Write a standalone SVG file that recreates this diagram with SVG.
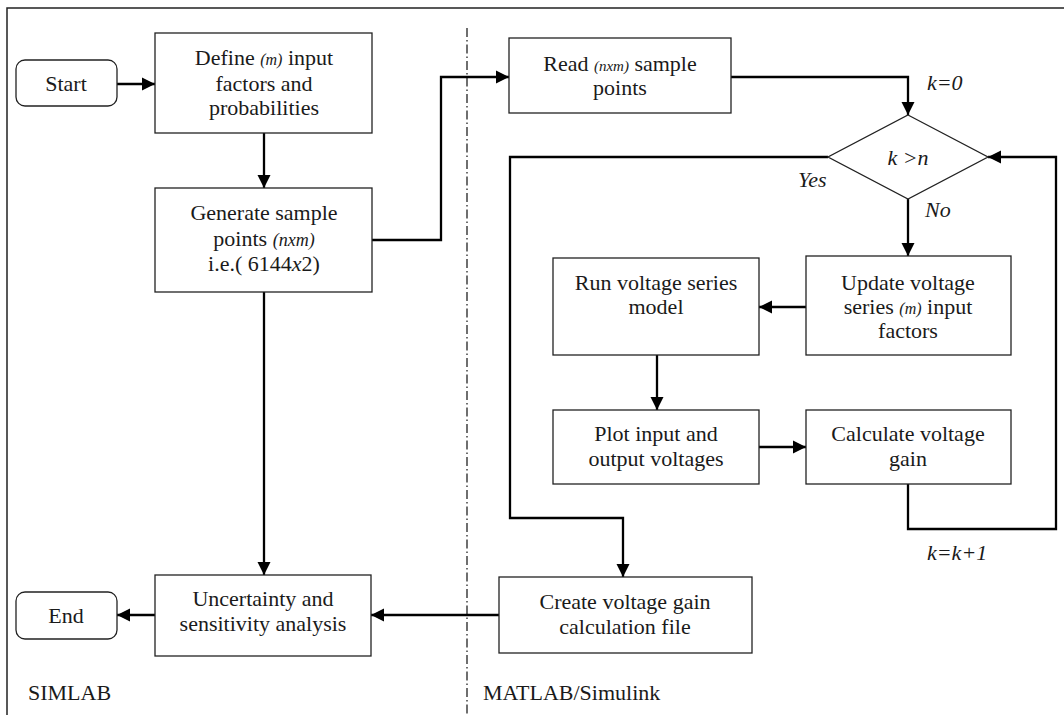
<svg xmlns="http://www.w3.org/2000/svg" width="1064" height="715" viewBox="0 0 1064 715">
<style>
.box{fill:#fff;stroke:#222;stroke-width:1.3}
.t{font-family:"Liberation Serif","Times New Roman",serif;font-size:22px;fill:#1a1a1a;text-anchor:middle}
.i{font-style:italic}
.lbl{font-family:"Liberation Serif","Times New Roman",serif;font-size:22px;font-style:italic;fill:#1a1a1a}
.c{fill:none;stroke:#000;stroke-width:2.3}
</style>
<defs>
<marker id="ah" markerUnits="userSpaceOnUse" markerWidth="14" markerHeight="14" refX="13" refY="7" orient="auto">
<path d="M0,0.5 L13,7 L0,13.5 z" fill="#000"/>
</marker>
</defs>
<rect width="1064" height="715" fill="#fff"/>
<g id="frame">
<path d="M7,715 V8 H1064" fill="none" stroke="#222" stroke-width="1.5"/>
<line x1="467" y1="28" x2="467" y2="715" stroke="#222" stroke-width="1.3" stroke-dasharray="9 3 1.5 3"/>
<text x="28" y="700" style="font-family:'Liberation Serif','Times New Roman',serif;font-size:22px;fill:#1a1a1a">SIMLAB</text>
<text x="483" y="700" style="font-family:'Liberation Serif','Times New Roman',serif;font-size:22px;fill:#1a1a1a">MATLAB/Simulink</text>
</g>
<g id="connectors">
<line class="c" x1="117" y1="84" x2="155" y2="84" marker-end="url(#ah)"/>
<line class="c" x1="264" y1="133" x2="264" y2="188" marker-end="url(#ah)"/>
<polyline class="c" points="372,240 441,240 441,77 509,77" marker-end="url(#ah)"/>
<polyline class="c" points="731,77 908,77 908,115" marker-end="url(#ah)"/>
<line class="c" x1="908" y1="199" x2="908" y2="256" marker-end="url(#ah)"/>
<line class="c" x1="806" y1="307" x2="759" y2="307" marker-end="url(#ah)"/>
<line class="c" x1="657" y1="355" x2="657" y2="410" marker-end="url(#ah)"/>
<line class="c" x1="759" y1="447" x2="806" y2="447" marker-end="url(#ah)"/>
<polyline class="c" points="908,484 908,529 1056,529 1056,157 988,157" marker-end="url(#ah)"/>
<polyline class="c" points="828,157 510,157 510,518 623,518 623,577" marker-end="url(#ah)"/>
<line class="c" x1="264" y1="292" x2="264" y2="575" marker-end="url(#ah)"/>
<line class="c" x1="499" y1="615" x2="371" y2="615" marker-end="url(#ah)"/>
<line class="c" x1="155" y1="615" x2="117" y2="615" marker-end="url(#ah)"/>
<text class="lbl" x="927" y="90">k=0</text>
<text class="lbl" x="798" y="187">Yes</text>
<text class="lbl" x="925" y="217">No</text>
<text class="lbl" x="927" y="560">k=k+1</text>
</g>
<g id="start">
<rect class="box" x="16" y="60" width="101" height="46" rx="9"/>
<text class="t" x="66" y="91">Start</text>
</g>
<g id="define">
<rect class="box" x="155" y="33" width="217" height="100"/>
<text class="t" x="264" y="65">Define <tspan class="i" font-size="16">(m)</tspan> input</text>
<text class="t" x="264" y="91">factors and</text>
<text class="t" x="264" y="115">probabilities</text>
</g>
<g id="generate">
<rect class="box" x="155" y="188" width="217" height="104"/>
<text class="t" x="264" y="220">Generate sample</text>
<text class="t" x="264" y="246">points <tspan class="i" font-size="18">(nxm)</tspan></text>
<text class="t" x="264" y="271">i.e.( 6144<tspan class="i">x</tspan>2)</text>
</g>
<g id="uncertainty">
<rect class="box" x="155" y="575" width="216" height="81"/>
<text class="t" x="263" y="606">Uncertainty and</text>
<text class="t" x="263" y="631">sensitivity analysis</text>
</g>
<g id="end">
<rect class="box" x="16" y="592" width="101" height="47" rx="9"/>
<text class="t" x="66" y="623">End</text>
</g>
<g id="read">
<rect class="box" x="509" y="38" width="222" height="75"/>
<text class="t" x="620" y="71">Read <tspan class="i" font-size="15">(nxm)</tspan> sample</text>
<text class="t" x="620" y="95">points</text>
</g>
<g id="decision">
<polygon points="908,115 988,157 908,199 828,157" fill="#fff" stroke="#222" stroke-width="1.3"/>
<text class="t i" x="908" y="165">k &gt;n</text>
</g>
<g id="update">
<rect class="box" x="806" y="256" width="205" height="99"/>
<text class="t" x="908" y="290">Update voltage</text>
<text class="t" x="908" y="314">series <tspan class="i" font-size="16">(m)</tspan> input</text>
<text class="t" x="908" y="338">factors</text>
</g>
<g id="run">
<rect class="box" x="553" y="258" width="206" height="97"/>
<text class="t" x="656" y="290">Run voltage series</text>
<text class="t" x="656" y="314">model</text>
</g>
<g id="plot">
<rect class="box" x="553" y="410" width="206" height="74"/>
<text class="t" x="656" y="441">Plot input and</text>
<text class="t" x="656" y="466">output voltages</text>
</g>
<g id="calculate">
<rect class="box" x="806" y="410" width="205" height="74"/>
<text class="t" x="908" y="441">Calculate voltage</text>
<text class="t" x="908" y="466">gain</text>
</g>
<g id="create">
<rect class="box" x="499" y="577" width="253" height="76"/>
<text class="t" x="625" y="609">Create voltage gain</text>
<text class="t" x="625" y="634">calculation file</text>
</g>
</svg>
